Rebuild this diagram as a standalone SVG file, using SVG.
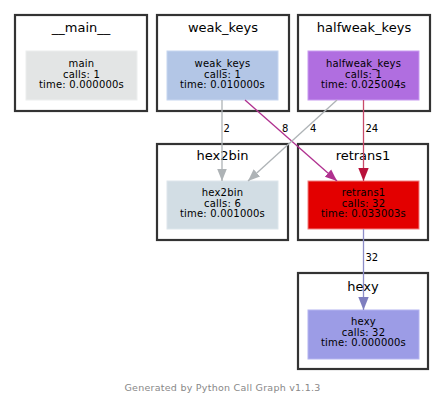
<svg xmlns="http://www.w3.org/2000/svg" width="445" height="407" viewBox="0 0 445 407">
<style>
.cl{fill:#fff;stroke:#333;stroke-width:2.2}
.ct{font-family:"DejaVu Sans",Verdana,sans-serif;font-size:13px;text-anchor:middle;fill:#000}
.nt{font-family:"DejaVu Sans",Verdana,sans-serif;font-size:10px;letter-spacing:0.2px;text-anchor:middle;fill:#000}
.el{font-family:"DejaVu Sans",Verdana,sans-serif;font-size:10px;fill:#000}
.e{fill:none;stroke-width:1.3}
</style>
<defs>
<marker id="ag" viewBox="0 0 10 10" refX="10" refY="5" markerWidth="12" markerHeight="12" markerUnits="userSpaceOnUse" orient="auto"><path d="M0,1 L10,5 L0,9 Z" fill="#aeb3b6"/></marker>
<marker id="am" viewBox="0 0 10 10" refX="10" refY="5" markerWidth="12" markerHeight="12" markerUnits="userSpaceOnUse" orient="auto"><path d="M0,1 L10,5 L0,9 Z" fill="#b0308f"/></marker>
<marker id="ar" viewBox="0 0 10 10" refX="10" refY="5" markerWidth="13" markerHeight="13" markerUnits="userSpaceOnUse" orient="auto"><path d="M0,1 L10,5 L0,9 Z" fill="#b8103a"/></marker>
<marker id="ab" viewBox="0 0 10 10" refX="10" refY="5" markerWidth="13" markerHeight="13" markerUnits="userSpaceOnUse" orient="auto"><path d="M0,1 L10,5 L0,9 Z" fill="#7e7ebf"/></marker>
</defs>

<g id="cluster-main">
<rect class="cl" x="15" y="15" width="132" height="96"/>
<text class="ct" x="81" y="32">__main__</text>
</g>
<g id="node-main">
<rect x="26" y="51" width="111" height="49" fill="#e3e5e5" stroke="#eceeee"/>
<text class="nt" x="81.5" y="67">main</text>
<text class="nt" x="81.5" y="77.5">calls: 1</text>
<text class="nt" x="81.5" y="88">time: 0.000000s</text>
</g>

<g id="cluster-weak_keys">
<rect class="cl" x="157" y="15" width="132" height="96"/>
<text class="ct" x="223" y="32">weak_keys</text>
</g>
<g id="node-weak_keys">
<rect x="167" y="51" width="111" height="49" fill="#b3c6e6" stroke="#c6d6f0"/>
<text class="nt" x="222.5" y="67">weak_keys</text>
<text class="nt" x="222.5" y="77.5">calls: 1</text>
<text class="nt" x="222.5" y="88">time: 0.010000s</text>
</g>

<g id="cluster-halfweak_keys">
<rect class="cl" x="298" y="15" width="132" height="96"/>
<text class="ct" x="364" y="32">halfweak_keys</text>
</g>
<g id="node-halfweak_keys">
<rect x="308" y="51" width="111" height="49" fill="#b06ee0" stroke="#c89af0"/>
<text class="nt" x="363.5" y="67">halfweak_keys</text>
<text class="nt" x="363.5" y="77.5">calls: 1</text>
<text class="nt" x="363.5" y="88">time: 0.025004s</text>
</g>

<g id="cluster-hex2bin">
<rect class="cl" x="157" y="144" width="131" height="96"/>
<text class="ct" x="222.5" y="160">hex2bin</text>
</g>
<g id="node-hex2bin">
<rect x="167" y="181" width="111" height="48" fill="#d2dde4" stroke="#dde6ec"/>
<text class="nt" x="222.5" y="196">hex2bin</text>
<text class="nt" x="222.5" y="206.5">calls: 6</text>
<text class="nt" x="222.5" y="217">time: 0.001000s</text>
</g>

<g id="cluster-retrans1">
<rect class="cl" x="298" y="144" width="130" height="96"/>
<text class="ct" x="363" y="160">retrans1</text>
</g>
<g id="node-retrans1">
<rect x="308" y="181" width="111" height="48" fill="#e30000" stroke="#f08080"/>
<text class="nt" x="363.5" y="196">retrans1</text>
<text class="nt" x="363.5" y="206.5">calls: 32</text>
<text class="nt" x="363.5" y="217">time: 0.033003s</text>
</g>

<g id="cluster-hexy">
<rect class="cl" x="298" y="273" width="130" height="96"/>
<text class="ct" x="363" y="291">hexy</text>
</g>
<g id="node-hexy">
<rect x="308" y="310" width="111" height="49" fill="#9c9ce6" stroke="#b4b4f0"/>
<text class="nt" x="363.5" y="325">hexy</text>
<text class="nt" x="363.5" y="335.5">calls: 32</text>
<text class="nt" x="363.5" y="346">time: 0.000000s</text>
</g>

<g id="connectors">
<line class="e" x1="222" y1="100" x2="222" y2="181" stroke="#aeb3b6" marker-end="url(#ag)"/>
<text class="el" x="223.5" y="132">2</text>
<line class="e" x1="245" y1="100" x2="337" y2="181" stroke="#b0308f" marker-end="url(#am)"/>
<text class="el" x="282" y="132">8</text>
<line class="e" x1="337" y1="100" x2="248" y2="181" stroke="#aeb3b6" marker-end="url(#ag)"/>
<text class="el" x="310" y="132">4</text>
<line class="e" x1="363.5" y1="100" x2="363.5" y2="181" stroke="#c84a6a" stroke-width="1.8" marker-end="url(#ar)"/>
<text class="el" x="365.5" y="132">24</text>
<line class="e" x1="363.5" y1="229" x2="363.5" y2="310" stroke="#8e8ec8" stroke-width="1.8" marker-end="url(#ab)"/>
<text class="el" x="365.5" y="261">32</text>
</g>

<text x="222.5" y="391" font-family="'DejaVu Sans',Verdana,sans-serif" font-size="9.5px" letter-spacing="0.25px" text-anchor="middle" fill="#888">Generated by Python Call Graph v1.1.3</text>
</svg>
